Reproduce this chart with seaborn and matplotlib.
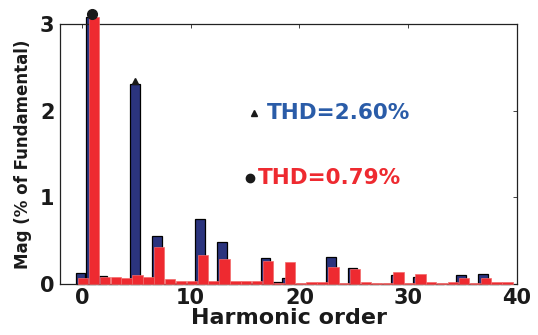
import numpy as np
import pandas as pd
import matplotlib
matplotlib.use("Agg")
import matplotlib.pyplot as plt
import seaborn as sns

# Harmonic orders
harmonics = list(range(40))
# Blue series (THD = 2.60%)
blue_mag = [0.13, 3.08, 0.09, 0.0, 0.0, 2.31, 0.0, 0.56, 0.0, 0.01,
            0.01, 0.755, 0.0, 0.48, 0.0, 0.0, 0.01, 0.30, 0.02, 0.07,
            0.0, 0.0, 0.0, 0.31, 0.0, 0.184, 0.0, 0.0, 0.0, 0.10,
            0.0, 0.08, 0.0, 0.0, 0.0, 0.10, 0.0, 0.115, 0.0, 0.0]
# Red series (THD = 0.79%)
red_mag = [0.07, 3.08, 0.08, 0.08, 0.07, 0.10, 0.08, 0.425, 0.06, 0.03,
           0.03, 0.337, 0.03, 0.287, 0.03, 0.03, 0.04, 0.265, 0.01, 0.25,
           0.01, 0.025, 0.025, 0.20, 0.01, 0.172, 0.025, 0.01, 0.01, 0.134,
           0.01, 0.115, 0.025, 0.01, 0.025, 0.07, 0.01, 0.07, 0.025, 0.025]
thd_labels = ["THD=2.60%", "THD=0.79%"]
xticks = [0, 10, 20, 30, 40]
yticks = [0, 1, 2, 3]

BLUE = "#2b347e"
BLUE_TXT = "#2a5ca8"
RED = "#ee2a30"

sns.set_style("white")
plt.rcParams['font.family'] = ['DejaVu Sans']

fig = plt.figure(figsize=(5.38, 3.35), dpi=100)
ax = fig.add_axes([0.1115, 0.152, 0.8495, 0.776])

h = np.array(harmonics, dtype=float)
df_b = pd.DataFrame({"h": h - 0.12, "mag": blue_mag})
df_r = pd.DataFrame({"h": h + 0.12, "mag": red_mag})

sns.barplot(data=df_b, x="h", y="mag", native_scale=True, width=0.9,
            color=BLUE, saturation=1, edgecolor="black", linewidth=0.9,
            errorbar=None, ax=ax, zorder=2)
sns.barplot(data=df_r, x="h", y="mag", native_scale=True, width=0.95,
            color=RED, saturation=1, edgecolor="#f26a6a", linewidth=0.5,
            errorbar=None, ax=ax, zorder=3)
for p in ax.patches:
    p.set_clip_on(False)

# peak markers
ax.plot([h[1] - 0.05], [max(red_mag) + 0.04], marker="o", color="#1a1a1a",
        markersize=7, clip_on=False, zorder=5, linestyle="none")
ax.plot([h[5] - 0.12], [blue_mag[5] + 0.03], marker="^", color="#1a1a1a",
        markersize=5, clip_on=False, zorder=5, linestyle="none")

# legend-like annotations
ax.plot([15.8], [1.97], marker="^", color="#1a1a1a", markersize=4.5,
        linestyle="none", zorder=5)
ax.text(17.0, 1.97, thd_labels[0], color=BLUE_TXT, fontsize=15.5,
        fontweight="bold", va="center", ha="left")
ax.plot([15.5], [1.22], marker="o", color="#1a1a1a", markersize=6,
        linestyle="none", zorder=5)
ax.text(16.2, 1.22, thd_labels[1], color=RED, fontsize=15.5,
        fontweight="bold", va="center", ha="left")

ax.set_xlim(-2, 40)
ax.set_ylim(0, 3)
ax.set_xticks(xticks)
ax.set_yticks(yticks)
ax.set_xticklabels([str(t) for t in xticks], fontsize=15, fontweight="bold")
ax.set_yticklabels([str(t) for t in yticks], fontsize=15, fontweight="bold")
ax.tick_params(axis="both", direction="in", length=3, width=0.6, top=True,
               right=True, colors="#222222", labelcolor="#1a1a1a")
ax.tick_params(axis="x", pad=3)
ax.tick_params(axis="y", pad=4)
ax.set_xlabel("Harmonic order", fontsize=16, fontweight="bold",
              color="#1a1a1a", labelpad=0)
ax.set_ylabel("Mag (% of Fundamental)", fontsize=12, fontweight="bold",
              color="#1a1a1a", labelpad=6)
for s in ax.spines.values():
    s.set_color("#222222")
    s.set_linewidth(0.9)
    s.set_visible(True)

fig.savefig("out.png", dpi=100)
